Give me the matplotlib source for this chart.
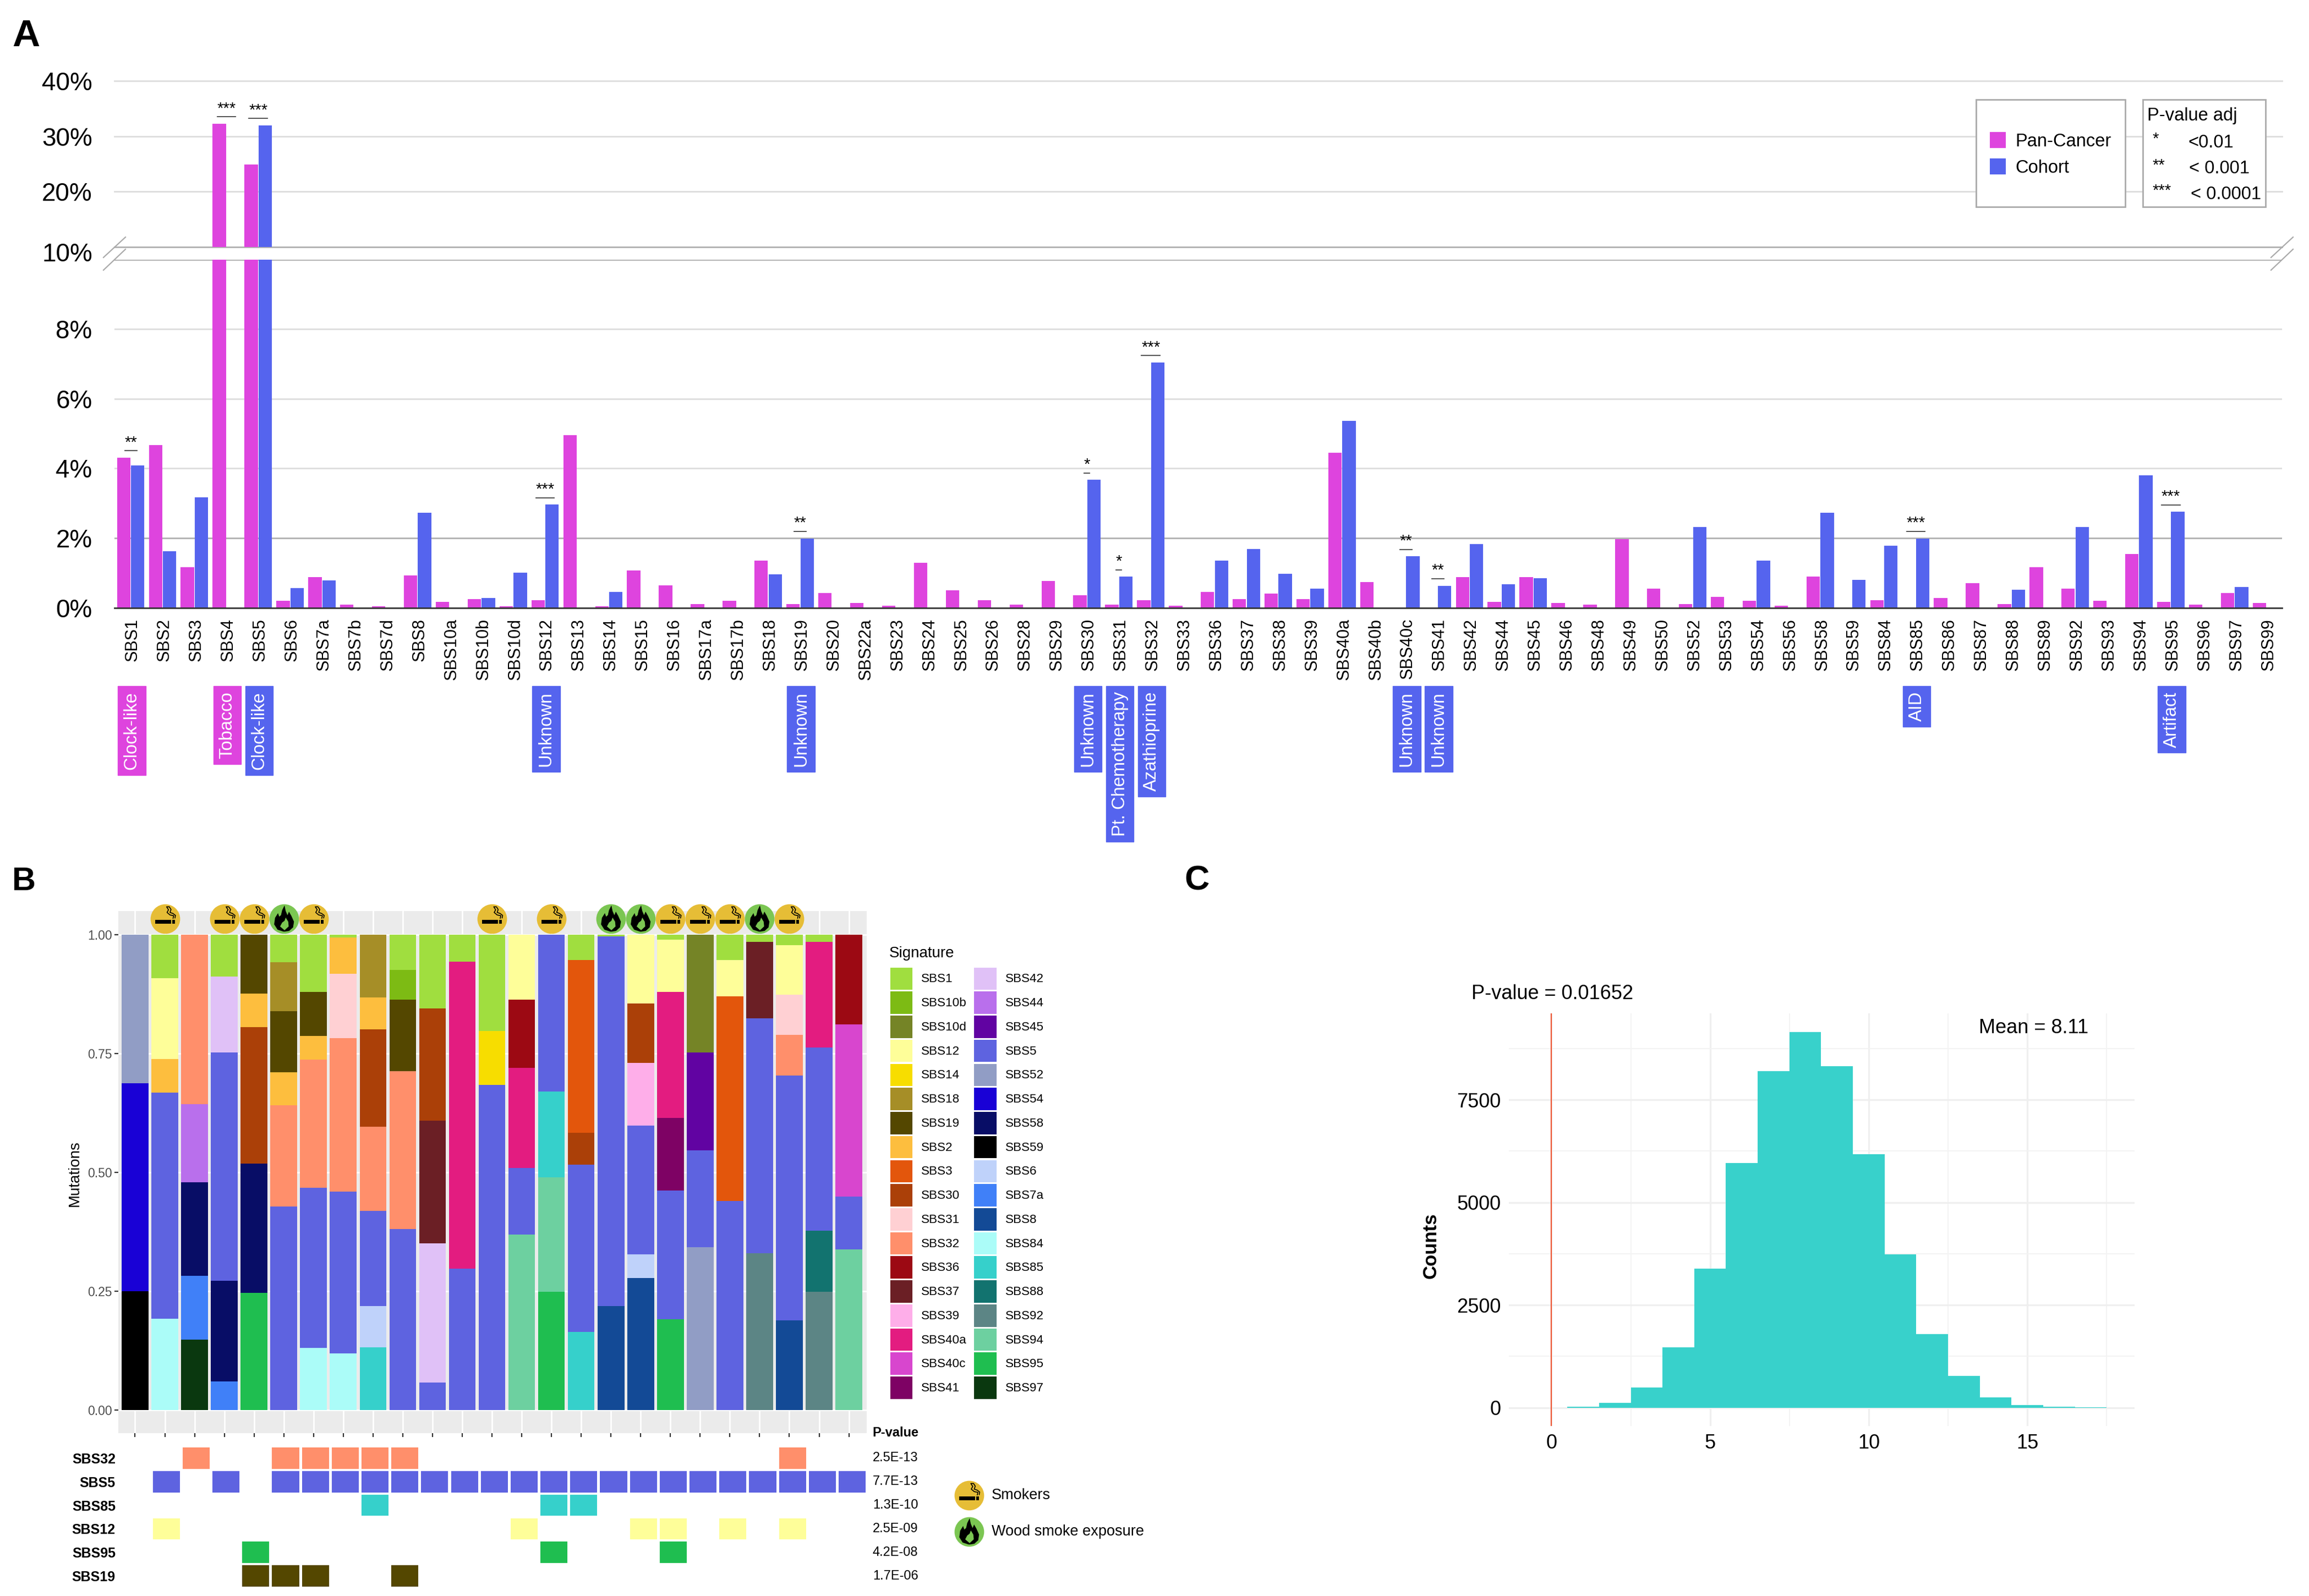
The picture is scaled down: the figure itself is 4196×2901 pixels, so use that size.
import matplotlib
matplotlib.use('Agg')
from matplotlib import pyplot as plt
from matplotlib.patches import Rectangle
from matplotlib.path import Path
from matplotlib.transforms import ScaledTranslation

plt.rcParams['font.family'] = ['Liberation Sans', 'DejaVu Sans']

W, H = 4196, 2901

# Panel A data
signatures = ['SBS1', 'SBS2', 'SBS3', 'SBS4', 'SBS5', 'SBS6', 'SBS7a', 'SBS7b', 'SBS7d', 'SBS8', 'SBS10a',
              'SBS10b', 'SBS10d', 'SBS12', 'SBS13', 'SBS14', 'SBS15', 'SBS16', 'SBS17a', 'SBS17b', 'SBS18',
              'SBS19', 'SBS20', 'SBS22a', 'SBS23', 'SBS24', 'SBS25', 'SBS26', 'SBS28', 'SBS29', 'SBS30',
              'SBS31', 'SBS32', 'SBS33', 'SBS36', 'SBS37', 'SBS38', 'SBS39', 'SBS40a', 'SBS40b', 'SBS40c',
              'SBS41', 'SBS42', 'SBS44', 'SBS45', 'SBS46', 'SBS48', 'SBS49', 'SBS50', 'SBS52', 'SBS53',
              'SBS54', 'SBS56', 'SBS58', 'SBS59', 'SBS84', 'SBS85', 'SBS86', 'SBS87', 'SBS88', 'SBS89',
              'SBS92', 'SBS93', 'SBS94', 'SBS95', 'SBS96', 'SBS97', 'SBS99']
pan_cancer = [4.31, 4.67, 1.16, 32.3, 24.95, 0.19, 0.88, 0.08, 0.04, 0.93, 0.16,
              0.24, 0.04, 0.22, 4.96, 0.04, 1.06, 0.64, 0.11, 0.19, 1.35,
              0.11, 0.42, 0.14, 0.05, 1.29, 0.49, 0.22, 0.08, 0.77, 0.36,
              0.08, 0.22, 0.05, 0.45, 0.25, 0.41, 0.25, 4.45, 0.74, 0.0,
              0.0, 0.88, 0.16, 0.88, 0.14, 0.08, 1.96, 0.55, 0.11, 0.31,
              0.19, 0.05, 0.89, 0.0, 0.22, 0.0, 0.28, 0.7, 0.11, 1.16,
              0.55, 0.19, 1.54, 0.16, 0.08, 0.42, 0.14]
cohort = [4.08, 1.62, 3.17, 0.0, 32.0, 0.56, 0.78, 0.0, 0.0, 2.73, 0.0,
          0.27, 1.0, 2.96, 0.0, 0.45, 0.0, 0.0, 0.0, 0.0, 0.95,
          1.99, 0.0, 0.0, 0.0, 0.0, 0.0, 0.0, 0.0, 0.0, 3.67,
          0.89, 7.04, 0.0, 1.35, 1.68, 0.97, 0.55, 5.36, 0.0, 1.47,
          0.63, 1.83, 0.67, 0.85, 0.0, 0.0, 0.0, 0.0, 2.32, 0.0,
          1.35, 0.0, 2.73, 0.8, 1.77, 1.99, 0.0, 0.0, 0.52, 0.0,
          2.32, 0.0, 3.8, 2.75, 0.0, 0.6, 0.0]
stars = {'SBS1': '**', 'SBS4': '***', 'SBS5': '***', 'SBS12': '***', 'SBS19': '**', 'SBS30': '*', 'SBS31': '*',
         'SBS32': '***', 'SBS40c': '**', 'SBS41': '**', 'SBS85': '***', 'SBS95': '***'}
# signature, aetiology, which series it belongs to
aetiology_sig = ['SBS1', 'SBS4', 'SBS5', 'SBS12', 'SBS19', 'SBS30', 'SBS31', 'SBS32', 'SBS40c', 'SBS41', 'SBS85', 'SBS95']
aetiology_text = ['Clock-like', 'Tobacco', 'Clock-like', 'Unknown', 'Unknown', 'Unknown', 'Pt. Chemotherapy',
                  'Azathioprine', 'Unknown', 'Unknown', 'AID', 'Artifact']
aetiology_group = ['pan', 'pan', 'cohort', 'cohort', 'cohort', 'cohort', 'cohort', 'cohort', 'cohort', 'cohort', 'cohort', 'cohort']

# Panel B data, each sample listed from the top of the bar down
sig_colors = {'SBS1': '#A0DE3F', 'SBS10b': '#7DBB14', 'SBS10d': '#758426', 'SBS12': '#FEFE99', 'SBS14': '#F7DD00',
              'SBS18': '#A68E27', 'SBS19': '#544700', 'SBS2': '#FDBE3E', 'SBS3': '#E3560C', 'SBS30': '#AB4008',
              'SBS31': '#FFD0D3', 'SBS32': '#FF8F6B', 'SBS36': '#9C0913', 'SBS37': '#6B1F25', 'SBS39': '#FEAEE9',
              'SBS40a': '#E31C80', 'SBS40c': '#D846CE', 'SBS41': '#7E0264', 'SBS42': '#E0C1F7', 'SBS44': '#B96FEC',
              'SBS45': '#6103A2', 'SBS5': '#5E63E0', 'SBS52': '#919DC5', 'SBS54': '#1901D6', 'SBS58': '#080D66',
              'SBS59': '#000000', 'SBS6': '#BFD2FA', 'SBS7a': '#4080F8', 'SBS8': '#134A96', 'SBS84': '#ABFCF8',
              'SBS85': '#36D0CB', 'SBS88': '#12736F', 'SBS92': '#5C8585', 'SBS94': '#6DD0A0', 'SBS95': '#1FBE50',
              'SBS97': '#0A380F'}
sample_sigs = [
    ['SBS52', 'SBS54', 'SBS59'],
    ['SBS1', 'SBS12', 'SBS2', 'SBS5', 'SBS84'],
    ['SBS32', 'SBS44', 'SBS58', 'SBS7a', 'SBS97'],
    ['SBS1', 'SBS42', 'SBS5', 'SBS58', 'SBS7a'],
    ['SBS19', 'SBS2', 'SBS30', 'SBS58', 'SBS95'],
    ['SBS1', 'SBS18', 'SBS19', 'SBS2', 'SBS32', 'SBS5'],
    ['SBS1', 'SBS19', 'SBS2', 'SBS32', 'SBS5', 'SBS84'],
    ['SBS1', 'SBS2', 'SBS31', 'SBS32', 'SBS5', 'SBS84'],
    ['SBS18', 'SBS2', 'SBS30', 'SBS32', 'SBS5', 'SBS6', 'SBS85'],
    ['SBS1', 'SBS10b', 'SBS19', 'SBS32', 'SBS5'],
    ['SBS1', 'SBS30', 'SBS37', 'SBS42', 'SBS5'],
    ['SBS1', 'SBS40a', 'SBS5'],
    ['SBS1', 'SBS14', 'SBS5'],
    ['SBS12', 'SBS36', 'SBS40a', 'SBS5', 'SBS94'],
    ['SBS5', 'SBS85', 'SBS94', 'SBS95'],
    ['SBS1', 'SBS3', 'SBS30', 'SBS5', 'SBS85'],
    ['SBS1', 'SBS5', 'SBS8'],
    ['SBS12', 'SBS30', 'SBS39', 'SBS5', 'SBS6', 'SBS8'],
    ['SBS1', 'SBS12', 'SBS40a', 'SBS41', 'SBS5', 'SBS95'],
    ['SBS10d', 'SBS45', 'SBS5', 'SBS52'],
    ['SBS1', 'SBS12', 'SBS3', 'SBS5'],
    ['SBS1', 'SBS37', 'SBS5', 'SBS92'],
    ['SBS1', 'SBS12', 'SBS31', 'SBS32', 'SBS5', 'SBS8'],
    ['SBS1', 'SBS40a', 'SBS5', 'SBS88', 'SBS92'],
    ['SBS36', 'SBS40c', 'SBS5', 'SBS94'],
]
sample_vals = [
    [.3125, .4375, .25],
    [.091, .171, .07, .476, .192],
    [.357, .165, .197, .134, .148],
    [.088, .16, .48, .212, .06],
    [.124, .07, .288, .272, .246],
    [.058, .103, .128, .069, .213, .428],
    [.12, .093, .05, .27, .336, .131],
    [.006, .076, .135, .324, .34, .119],
    [.132, .067, .205, .177, .2, .086, .132],
    [.074, .063, .15, .332, .381],
    [.155, .236, .258, .292, .058],
    [.056, .647, .297],
    [.203, .113, .684],
    [.136, .144, .211, .14, .369],
    [.33, .18, .241, .249],
    [.053, .364, .067, .352, .164],
    [.003, .778, .219],
    [.145, .125, .132, .271, .05, .277],
    [.01, .11, .265, .153, .271, .191],
    [.248, .206, .204, .342],
    [.053, .076, .431, .44],
    [.015, .161, .495, .33],
    [.022, .104, .085, .085, .516, .188],
    [.015, .223, .386, .128, .249],
    [.188, .362, .111, .338],
]
smokers = [1, 3, 4, 6, 12, 14, 18, 19, 20, 22]
wood_smoke = [5, 16, 17, 21]
legend_col1 = ['SBS1', 'SBS10b', 'SBS10d', 'SBS12', 'SBS14', 'SBS18', 'SBS19', 'SBS2', 'SBS3', 'SBS30', 'SBS31',
               'SBS32', 'SBS36', 'SBS37', 'SBS39', 'SBS40a', 'SBS40c', 'SBS41']
legend_col2 = ['SBS42', 'SBS44', 'SBS45', 'SBS5', 'SBS52', 'SBS54', 'SBS58', 'SBS59', 'SBS6', 'SBS7a', 'SBS8',
               'SBS84', 'SBS85', 'SBS88', 'SBS92', 'SBS94', 'SBS95', 'SBS97']

# enriched signatures below the stacked bars
tile_rows = ['SBS32', 'SBS5', 'SBS85', 'SBS12', 'SBS95', 'SBS19']
tile_pvalues = ['2.5E-13', '7.7E-13', '1.3E-10', '2.5E-09', '4.2E-08', '1.7E-06']
tile_samples = [
    [2, 5, 6, 7, 8, 9, 22],
    [1, 3, 5, 6, 7, 8, 9, 10, 11, 12, 13, 14, 15, 16, 17, 18, 19, 20, 21, 22, 23, 24],
    [8, 14, 15],
    [1, 13, 17, 18, 20, 22],
    [4, 14, 18],
    [4, 5, 6, 9],
]

# Panel C data
hist_bins = [1, 2, 3, 4, 5, 6, 7, 8, 9, 10, 11, 12, 13, 14, 15, 16, 17]
hist_counts = [20, 113, 492, 1476, 3382, 5965, 8200, 9153, 8323, 6170, 3741, 1794, 779, 256, 62, 20, 5]

PINK = '#DE44DE'
BLUE = '#5564EE'


def px_axes(x0, y0, x1, y1):
    # axes from pixel corners of the picture (y going down)
    return fig.add_axes([x0 / W, 1 - y1 / H, (x1 - x0) / W, (y1 - y0) / H])


def clean(ax):
    for s in ax.spines.values():
        s.set_visible(False)


def smoker_paths():
    M, L, C = Path.MOVETO, Path.LINETO, Path.CLOSEPOLY
    # first point only fixes the marker scale
    v = [(1, 1), (-0.68, -0.32), (0.42, -0.32), (0.42, -0.08), (-0.68, -0.08), (0, 0),
         (0.5, -0.32), (0.66, -0.32), (0.66, -0.08), (0.5, -0.08), (0, 0)]
    c = [M, M, L, L, L, C, M, L, L, L, C]
    smoke = [(1, 1), (0.55, 0.0), (0.6, 0.2), (0.35, 0.25), (0.15, 0.42), (0.25, 0.6), (0.12, 0.8), (0.3, 0.8),
             (0.42, 0.62), (0.35, 0.42), (0.55, 0.35), (0.72, 0.22), (0.68, 0.02)]
    return Path(v, c), Path(smoke, [M, M] + [L] * 11)


def flame_path():
    M, L, C = Path.MOVETO, Path.LINETO, Path.CLOSEPOLY
    outer = [(-0.05, -0.85), (-0.45, -0.72), (-0.68, -0.36), (-0.62, 0.08), (-0.42, 0.4), (-0.34, 0.16), (-0.22, 0.26),
             (-0.14, 0.6), (0.02, 0.92), (0.1, 0.54), (0.22, 0.26), (0.32, 0.5), (0.48, 0.22), (0.66, -0.18),
             (0.6, -0.56), (0.34, -0.8), (0.05, -0.85), (0, 0)]
    inner = [(0.02, -0.76), (0.3, -0.5), (0.27, -0.18), (0.1, 0.1), (0.02, -0.12), (-0.14, -0.24), (-0.28, -0.5),
             (0.02, -0.76), (0, 0)]
    v = [(1, 1)] + outer + inner
    c = [M] + [M] + [L] * 16 + [C] + [M] + [L] * 7 + [C]
    return Path(v, c)


def draw_exposure(ax, xs, ys, kind):
    size = 1500
    if kind == 'smoker':
        ax.scatter(xs, ys, s=size, color='#E6BD36', linewidths=0, clip_on=False, zorder=5)
        body, smoke = smoker_paths()
        ax.scatter(xs, ys, s=size, marker=body, color='black', linewidths=0, clip_on=False, zorder=6)
        ax.scatter(xs, ys, s=size, marker=smoke, facecolors='none', edgecolors='black', linewidths=1.2, clip_on=False, zorder=6)
    else:
        ax.scatter(xs, ys, s=size, color='#7BC652', linewidths=0, clip_on=False, zorder=5)
        ax.scatter(xs, ys, s=size, marker=flame_path(), color='black', linewidths=0, clip_on=False, zorder=6)


fig = plt.figure(figsize=(W / 100, H / 100), dpi=100, facecolor='white')

# ---------- Panel A: broken y axis, two axes sharing the categories
lower = px_axes(208, 471.6, 4147, 1104.5)
upper = px_axes(208, 147.3, 4147, 448.7)
positions = list(range(len(signatures)))
for ax in (lower, upper):
    clean(ax)
    ax.set_xlim(-0.51, 67.49)
    ax.bar([p - 0.22 for p in positions], pan_cancer, 0.42, color=PINK, zorder=3)
    ax.bar([p + 0.22 for p in positions], cohort, 0.42, color=BLUE, zorder=3)
lower.set_ylim(0, 10)
upper.set_ylim(10, 40)
for y in [2, 4, 6, 8, 10]:
    lower.axhline(y, color='#B0B0B0' if y in (2, 10) else '#DDDDDD', lw=2, zorder=1)
for y in [10, 20, 30, 40]:
    upper.axhline(y, color='#B0B0B0' if y == 10 else '#DDDDDD', lw=2, zorder=1, clip_on=False)
lower.axhline(0, color='#333333', lw=2, zorder=4, clip_on=False)
lower.set_xticks(positions)
lower.set_xticklabels(signatures, rotation=90, fontsize=22)
lower.tick_params(axis='x', length=0, pad=14)
shift = ScaledTranslation(0.035, 0, fig.dpi_scale_trans)
for label in lower.get_xticklabels():
    label.set_transform(label.get_transform() + shift)
lower.set_yticks([0, 2, 4, 6, 8])
lower.set_yticklabels(['0%', '2%', '4%', '6%', '8%'], fontsize=33)
upper.set_xticks([])
upper.set_yticks([20, 30, 40])
upper.set_yticklabels(['20%', '30%', '40%'], fontsize=33)
for ax in (lower, upper):
    ax.tick_params(axis='y', length=0, pad=29)

# significance brackets
half_width = {'*': 0.085, '**': 0.19, '***': 0.29}
for name, mark in stars.items():
    i = signatures.index(name)
    top = max(pan_cancer[i], cohort[i])
    ax = upper if top > 10 else lower
    y = top + (1.25 if top > 10 else 0.2)
    ax.plot([i - half_width[mark], i + half_width[mark]], [y, y], color='#444444', lw=1.3, zorder=4)
    ax.annotate(mark, (i, y), xytext=(0, 5), textcoords='offset points', ha='center', va='baseline', fontsize=21)

# overlay in picture pixels for texts and legends
ov = fig.add_axes([0, 0, 1, 1])
ov.set_xlim(0, W)
ov.set_ylim(H, 0)
ov.axis('off')
ov.set_zorder(10)

ov.text(168, 462.7, '10%', ha='right', va='center', fontsize=33)
for cx in (208, 4147):
    ov.plot([cx - 20, cx + 20], [468, 431], color='#AAAAAA', lw=1.6)
    ov.plot([cx - 20, cx + 20], [491, 453], color='#AAAAAA', lw=1.6)

ax_trans = lower.get_xaxis_transform()
for name, label, group in zip(aetiology_sig, aetiology_text, aetiology_group):
    i = signatures.index(name)
    colour = PINK if group == 'pan' else BLUE
    t = lower.text(i + 0.03, -0.241, label, rotation=90, ha='center', va='top', color='white', fontsize=23.5,
                   transform=ax_trans, clip_on=False, zorder=5,
                   bbox=dict(facecolor=colour, edgecolor=colour, boxstyle='square,pad=0.3'))

ov.add_patch(Rectangle((3591, 181), 271, 195, fc='white', ec='#AAAAAA', lw=2))
ov.add_patch(Rectangle((3894, 181), 223, 195, fc='white', ec='#AAAAAA', lw=2))
ov.add_patch(Rectangle((3616, 240), 29, 29, fc=PINK, ec='none'))
ov.add_patch(Rectangle((3616, 288), 29, 29, fc=BLUE, ec='none'))
ov.text(3662, 258, 'Pan-Cancer', va='center', fontsize=23.5)
ov.text(3662, 306, 'Cohort', va='center', fontsize=23.5)
ov.text(3902, 211, 'P-value adj', va='center', fontsize=23.5)
for mark, txt, x, y in zip(['*', '**', '***'], ['<0.01', '< 0.001', '< 0.0001'], [3976, 3978, 3981], [256, 303.5, 350]):
    ov.text(3911, y + 5, mark, va='baseline', fontsize=21)
    ov.text(x, y + 3, txt, va='center', fontsize=23.5)

ov.text(22, 84, 'A', fontsize=50, fontweight='bold', va='baseline')
ov.text(22, 1618, 'B', fontsize=43, fontweight='bold', va='baseline')
ov.text(2152, 1618, 'C', fontsize=45, fontweight='bold', va='baseline')

# ---------- Panel B: stacked signature fractions
stack = px_axes(215, 1656, 1575, 2605)
clean(stack)
stack.set_facecolor('#EBEBEB')
stack.set_xlim(-0.564, 24.6)
stack.set_ylim(-0.049, 1.05)
stack.grid(True, axis='both', color='white', lw=2, zorder=0)
stack.set_axisbelow(True)
for i, (sigs, vals) in enumerate(zip(sample_sigs, sample_vals)):
    total = sum(vals)
    top = 1.0
    for sig, v in zip(sigs, vals):
        h = v / total
        stack.bar(i, h, 0.9, bottom=top - h, color=sig_colors[sig], zorder=3)
        top -= h
stack.set_xticks(range(len(sample_sigs)))
stack.set_xticklabels([])
stack.set_yticks([0, 0.25, 0.5, 0.75, 1])
stack.set_yticklabels(['0.00', '0.25', '0.50', '0.75', '1.00'], fontsize=16.5, color='#4D4D4D')
stack.tick_params(axis='both', length=5, width=1.6, color='#333333', pad=3)
stack.set_ylabel('Mutations', fontsize=20)
stack.yaxis.set_label_coords(-0.049, 0.497)
draw_exposure(stack, smokers, [1.034] * len(smokers), 'smoker')
draw_exposure(stack, wood_smoke, [1.034] * len(wood_smoke), 'wood')

ov.text(1616, 1733, 'Signature', fontsize=20, va='center')
for col, x_sw, x_txt in ((legend_col1, 1617.5, 1673.6), (legend_col2, 1770, 1826.6)):
    for r, sig in enumerate(col):
        yc = 1778.9 + r * 43.74
        ov.add_patch(Rectangle((x_sw, yc - 20.3), 40.5, 40.6, fc=sig_colors[sig], ec='none'))
        ov.text(x_txt, yc + 1, sig, fontsize=16.2, va='center')

# tile panel
tiles = px_axes(221, 2629, 1575.6, 2886)
clean(tiles)
tiles.set_xlim(-0.5, 24.5)
tiles.set_ylim(5.5, -0.5)
for r, (sig, samples) in enumerate(zip(tile_rows, tile_samples)):
    tiles.bar(samples, 0.906, bottom=r - 0.453, width=0.906, color=sig_colors[sig])
tiles.set_xticks([])
tiles.set_yticks(range(len(tile_rows)))
tiles.set_yticklabels(tile_rows, fontsize=18, fontweight='bold')
tiles.tick_params(axis='y', length=0, pad=8)
for r, p in enumerate(tile_pvalues):
    tiles.text(1.0075, r, p, transform=tiles.get_yaxis_transform(), fontsize=17, va='center', clip_on=False)
ov.text(1585.6, 2604.6, 'P-value', fontsize=17, fontweight='bold', va='center')

draw_exposure(ov, [1761], [2718], 'smoker')
draw_exposure(ov, [1761], [2784], 'wood')
ov.text(1801.6, 2718, 'Smokers', fontsize=19.5, va='center')
ov.text(1801.6, 2784, 'Wood smoke exposure', fontsize=19.5, va='center')

# ---------- Panel C: permutation histogram
hist = px_axes(2741.6, 1841.6, 3879, 2592.4)
clean(hist)
hist.set_xlim(-1.35, 18.38)
hist.set_ylim(-452, 9612)
hist.bar(hist_bins, hist_counts, 1.0, color='#38D1CB', zorder=3)
hist.axvline(0, color='#EE5533', lw=1.6, zorder=4)
hist.set_xticks([0, 5, 10, 15])
hist.set_xticks([2.5, 7.5, 12.5, 17.5], minor=True)
hist.set_yticks([0, 2500, 5000, 7500])
hist.set_yticks([1250, 3750, 6250, 8750], minor=True)
hist.grid(True, which='major', color='#EFEFEF', lw=2.4, zorder=0)
hist.grid(True, which='minor', color='#F3F3F3', lw=1.4, zorder=0)
hist.set_axisbelow(True)
hist.tick_params(which='both', length=0)
hist.tick_params(axis='both', labelsize=26, pad=10)
hist.set_ylabel('Counts', fontsize=25, fontweight='bold')
hist.yaxis.set_label_coords(-0.11, 0.437)
ov.text(2674, 1806, 'P-value = 0.01652', fontsize=26, va='center')
ov.text(3596, 1868, 'Mean = 8.11', fontsize=26, va='center')

fig.savefig('out.png', dpi=100)
